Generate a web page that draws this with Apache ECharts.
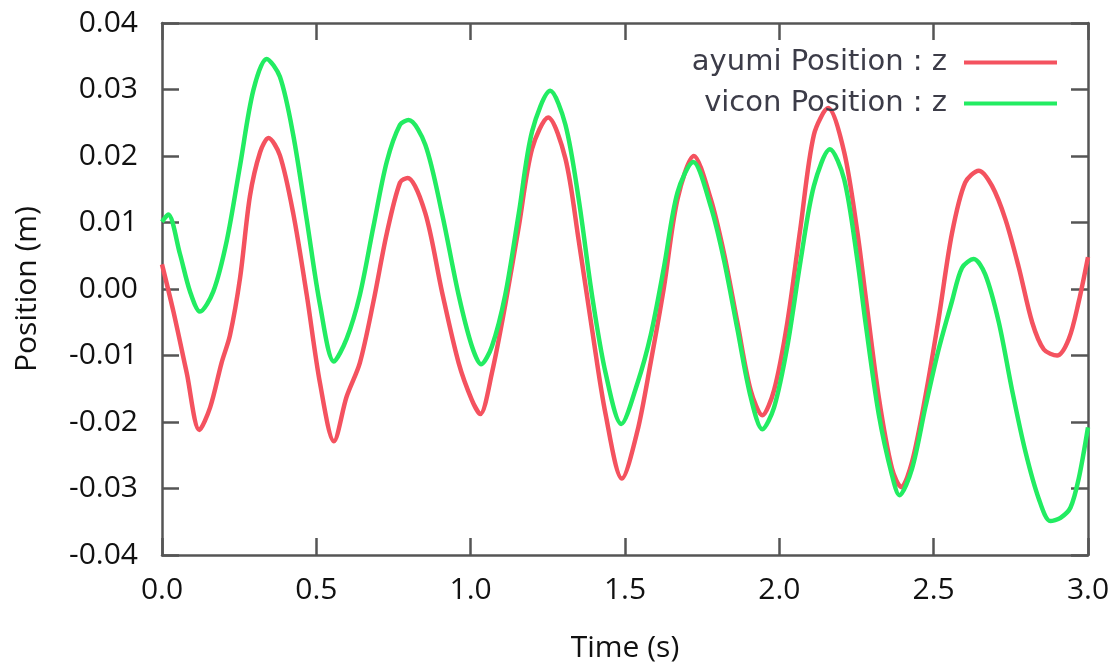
<!DOCTYPE html>
<html>
<head>
<meta charset="utf-8">
<script src="https://cdn.jsdelivr.net/npm/echarts@6/dist/echarts.min.js"></script>
<style>html,body{margin:0;padding:0;background:#fff}#c{width:1115px;height:668px}</style>
</head>
<body>
<div id="c"></div>
<script>
// Time (s) / position (m)
const ayumiT = [0.000, 0.037, 0.080, 0.121, 0.156, 0.193, 0.220, 0.253, 0.285, 0.318, 0.345, 0.382, 0.425, 0.469, 0.512, 0.557, 0.598, 0.641, 0.685, 0.728, 0.771, 0.796, 0.853, 0.907, 0.961, 1.004, 1.031, 1.069, 1.112, 1.156, 1.199, 1.251, 1.307, 1.350, 1.393, 1.437, 1.490, 1.540, 1.583, 1.626, 1.670, 1.723, 1.778, 1.821, 1.864, 1.907, 1.945, 1.983, 2.026, 2.069, 2.112, 2.158, 2.210, 2.253, 2.279, 2.322, 2.365, 2.395, 2.430, 2.473, 2.516, 2.559, 2.602, 2.646, 2.689, 2.733, 2.776, 2.819, 2.857, 2.900, 2.938, 2.970, 3.000];
const ayumiZ = [0.0037, -0.0034, -0.0126, -0.0212, -0.0178, -0.0111, -0.0070, 0.0017, 0.0140, 0.0206, 0.0227, 0.0201, 0.0114, -0.0009, -0.0142, -0.0229, -0.0162, -0.0111, -0.0019, 0.0083, 0.0160, 0.0167, 0.0114, -0.0004, -0.0111, -0.0167, -0.0188, -0.0126, -0.0024, 0.0094, 0.0211, 0.0258, 0.0196, 0.0073, -0.0060, -0.0188, -0.0285, -0.0214, -0.0111, 0.0002, 0.0135, 0.0200, 0.0135, 0.0053, -0.0050, -0.0152, -0.0190, -0.0152, -0.0050, 0.0094, 0.0232, 0.0272, 0.0206, 0.0085, -0.0009, -0.0162, -0.0270, -0.0298, -0.0260, -0.0162, -0.0045, 0.0083, 0.0160, 0.0178, 0.0155, 0.0104, 0.0032, -0.0050, -0.0091, -0.0100, -0.0075, -0.0019, 0.0048];
const viconT = [0.000, 0.020, 0.058, 0.091, 0.123, 0.166, 0.210, 0.253, 0.296, 0.339, 0.382, 0.425, 0.469, 0.512, 0.557, 0.598, 0.641, 0.685, 0.728, 0.771, 0.799, 0.853, 0.907, 0.961, 1.004, 1.034, 1.069, 1.112, 1.156, 1.199, 1.258, 1.307, 1.350, 1.393, 1.437, 1.488, 1.540, 1.583, 1.626, 1.670, 1.721, 1.778, 1.821, 1.864, 1.907, 1.945, 1.983, 2.026, 2.069, 2.112, 2.164, 2.210, 2.253, 2.279, 2.322, 2.365, 2.389, 2.430, 2.473, 2.516, 2.559, 2.592, 2.630, 2.667, 2.711, 2.754, 2.797, 2.841, 2.878, 2.911, 2.943, 2.970, 3.000];
const viconZ = [0.0101, 0.0112, 0.0053, -0.0004, -0.0034, -0.0004, 0.0073, 0.0186, 0.0299, 0.0346, 0.0319, 0.0232, 0.0104, -0.0024, -0.0109, -0.0075, -0.0009, 0.0094, 0.0191, 0.0247, 0.0254, 0.0217, 0.0114, -0.0009, -0.0086, -0.0113, -0.0086, -0.0009, 0.0114, 0.0237, 0.0298, 0.0247, 0.0135, -0.0009, -0.0126, -0.0203, -0.0142, -0.0070, 0.0032, 0.0145, 0.0191, 0.0124, 0.0043, -0.0060, -0.0162, -0.0211, -0.0178, -0.0086, 0.0043, 0.0155, 0.0210, 0.0165, 0.0043, -0.0050, -0.0188, -0.0280, -0.0310, -0.0270, -0.0178, -0.0091, -0.0019, 0.0032, 0.0045, 0.0022, -0.0050, -0.0152, -0.0244, -0.0316, -0.0349, -0.0344, -0.0329, -0.0285, -0.0208];
const seriesNames = ['ayumi Position : z', 'vicon Position : z'];
const xTicks = {min: 0, max: 3, interval: 0.5};
const yTicks = {min: -0.04, max: 0.04, interval: 0.01};

const chart = echarts.init(document.getElementById('c'));
const axisLine = {show: true, onZero: false, lineStyle: {color: '#555', width: 2.5}};
const axisTick = {show: true, inside: true, length: 17, lineStyle: {color: '#555', width: 2.5}};
const labelFont = {fontFamily: 'Open Sans', fontSize: 30, color: '#111'};
chart.setOption({
  animation: false,
  backgroundColor: '#fff',
  grid: {left: 162, right: 27, top: 23, bottom: 111, containLabel: false},
  legend: {
    orient: 'vertical', right: 58, top: 48, align: 'right', itemGap: 12, padding: 0,
    itemWidth: 93, itemHeight: 4, icon: 'rect',
    textStyle: {fontFamily: 'DejaVu Sans', fontSize: 29, color: '#3c3c48', padding: [0, 12, 0, 0]},
    data: seriesNames
  },
  xAxis: [
    {type: 'value', min: xTicks.min, max: xTicks.max, interval: xTicks.interval,
     name: 'Time (s)', nameLocation: 'middle', nameGap: 78,
     nameTextStyle: {fontFamily: 'Open Sans', fontSize: 30, color: '#111'},
     axisLine, axisTick, splitLine: {show: false},
     axisLabel: Object.assign({margin: 20, formatter: v => v.toFixed(1)}, labelFont)},
    {type: 'value', position: 'top', min: xTicks.min, max: xTicks.max, interval: xTicks.interval,
     axisLine, axisTick, splitLine: {show: false}, axisLabel: {show: false}}
  ],
  yAxis: [
    {type: 'value', min: yTicks.min, max: yTicks.max, interval: yTicks.interval,
     name: 'Position (m)', nameLocation: 'middle', nameGap: 120, nameRotate: 90,
     nameTextStyle: {fontFamily: 'Open Sans', fontSize: 30, color: '#111'},
     axisLine, axisTick, splitLine: {show: false},
     axisLabel: Object.assign({margin: 24, formatter: v => v.toFixed(2)}, labelFont)},
    {type: 'value', position: 'right', min: yTicks.min, max: yTicks.max, interval: yTicks.interval,
     axisLine, axisTick, splitLine: {show: false}, axisLabel: {show: false}}
  ],
  series: [
    {name: seriesNames[0], type: 'line', smooth: 0.3, showSymbol: false,
     data: ayumiT.map((t, i) => [t, ayumiZ[i]]),
     lineStyle: {color: '#f4525f', width: 4.5}, itemStyle: {color: '#f4525f'}},
    {name: seriesNames[1], type: 'line', smooth: 0.3, showSymbol: false,
     data: viconT.map((t, i) => [t, viconZ[i]]),
     lineStyle: {color: '#22ec62', width: 4.5}, itemStyle: {color: '#22ec62'}}
  ]
});
</script>
</body>
</html>
